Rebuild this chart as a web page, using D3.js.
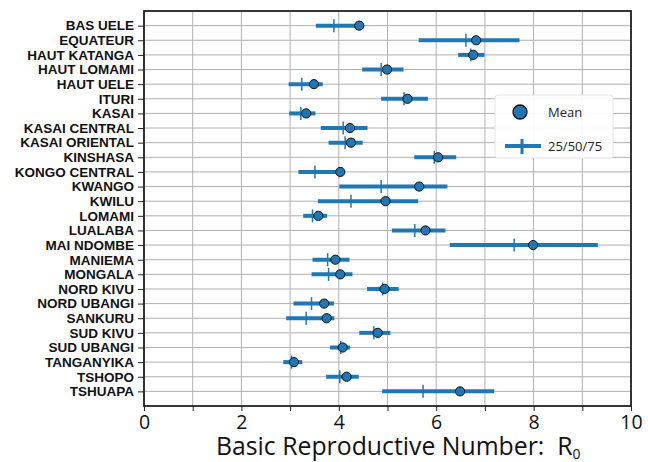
<!DOCTYPE html>
<html>
<head>
<meta charset="utf-8">
<script src="https://cdn.jsdelivr.net/npm/d3@7"></script>
<style>
  body { margin: 0; background: #fff; }
</style>
</head>
<body>
<svg id="chart" width="648" height="462"></svg>
<script>
const provinces = ["BAS UELE", "EQUATEUR", "HAUT KATANGA", "HAUT LOMAMI", "HAUT UELE", "ITURI",
  "KASAI", "KASAI CENTRAL", "KASAI ORIENTAL", "KINSHASA", "KONGO CENTRAL", "KWANGO", "KWILU",
  "LOMAMI", "LUALABA", "MAI NDOMBE", "MANIEMA", "MONGALA", "NORD KIVU", "NORD UBANGI",
  "SANKURU", "SUD KIVU", "SUD UBANGI", "TANGANYIKA", "TSHOPO", "TSHUAPA"]
const q25 = [3.53, 5.64, 6.45, 4.48, 2.97, 4.87, 2.98, 3.63, 3.79, 5.55, 3.17, 4.01, 3.57,
  3.27, 5.09, 6.28, 3.46, 3.44, 4.58, 3.07, 2.92, 4.42, 3.82, 2.86, 3.74, 4.89]
const q50 = [3.90, 6.61, 6.71, 4.87, 3.24, 5.34, 3.22, 4.09, 4.13, 5.96, 3.51, 4.87, 4.25,
  3.46, 5.56, 7.60, 3.77, 3.79, 4.90, 3.44, 3.33, 4.72, 4.04, 3.03, 4.02, 5.73]
const q75 = [4.40, 7.71, 6.99, 5.33, 3.67, 5.83, 3.52, 4.59, 4.49, 6.41, 4.12, 6.23, 5.63,
  3.76, 6.19, 9.32, 4.22, 4.28, 5.23, 3.90, 3.91, 5.06, 4.23, 3.25, 4.41, 7.19]
const means = [4.42, 6.82, 6.76, 4.99, 3.49, 5.41, 3.33, 4.23, 4.25, 6.04, 4.03, 5.65, 4.96,
  3.58, 5.78, 7.99, 3.93, 4.03, 4.94, 3.70, 3.75, 4.80, 4.08, 3.08, 4.16, 6.49]
const xTicks = d3.range(0, 11)
const xTickLabels = [0, 2, 4, 6, 8, 10]
const legendLabels = ["Mean", "25/50/75"]

const blue = "#1f77b4"
const margin = { top: 11, right: 17, bottom: 56, left: 144 }
const width = 648, height = 462

const svg = d3.select("#chart")

const x = d3.scaleLinear().domain([0, 10]).range([margin.left, width - margin.right])
const y = d3.scalePoint().domain(provinces).range([margin.top, height - margin.bottom]).padding(1)

// grid
const grid = svg.append("g")
grid.selectAll("line.v").data(xTicks).join("line")
  .attr("x1", d => x(d)).attr("x2", d => x(d))
  .attr("y1", margin.top).attr("y2", height - margin.bottom)
  .attr("stroke", "#b0b0b0").attr("stroke-width", 1)
grid.selectAll("line.h").data(provinces).join("line")
  .attr("x1", margin.left).attr("x2", width - margin.right)
  .attr("y1", d => y(d)).attr("y2", d => y(d))
  .attr("stroke", "#b0b0b0").attr("stroke-width", 1)

// quartile bars
const rows = provinces.map((p, i) => ({ name: p, lo: q25[i], med: q50[i], hi: q75[i], mean: means[i] }))
const marks = svg.append("g")
marks.selectAll("line.range").data(rows).join("line")
  .attr("x1", d => x(d.lo)).attr("x2", d => x(d.hi))
  .attr("y1", d => y(d.name)).attr("y2", d => y(d.name))
  .attr("stroke", blue).attr("stroke-width", 4)
marks.selectAll("line.med").data(rows).join("line")
  .attr("x1", d => x(d.med)).attr("x2", d => x(d.med))
  .attr("y1", d => y(d.name) - 6.5).attr("y2", d => y(d.name) + 6.5)
  .attr("stroke", blue).attr("stroke-width", 1.5)
marks.selectAll("circle").data(rows).join("circle")
  .attr("cx", d => x(d.mean)).attr("cy", d => y(d.name))
  .attr("r", 4.6)
  .attr("fill", blue).attr("stroke", "#111").attr("stroke-width", 1)

// axes
const xAxis = d3.axisBottom(x).tickValues(xTicks).tickSize(5)
  .tickFormat(d => xTickLabels.includes(d) ? d : "")
const gx = svg.append("g").attr("transform", `translate(0,${height - margin.bottom})`).call(xAxis)
gx.select(".domain").remove()
gx.selectAll(".tick line").attr("stroke", "#222").attr("stroke-width", 1)
gx.selectAll(".tick text").filter(d => !xTickLabels.includes(d)).remove()
gx.selectAll(".tick text")
  .attr("y", 9).attr("dy", "0.71em")
  .style("font-family", "'Open Sans', sans-serif").style("font-size", "19.5px").attr("fill", "#111")

const yAxis = d3.axisLeft(y).tickSize(6).tickPadding(4)
const gy = svg.append("g").attr("transform", `translate(${margin.left},0)`).call(yAxis)
gy.select(".domain").remove()
gy.selectAll(".tick line").attr("stroke", "#222").attr("stroke-width", 1)
gy.selectAll(".tick text")
  .style("font-family", "'Liberation Sans', Arial, sans-serif").style("font-weight", "bold")
  .style("font-size", "13.5px").attr("fill", "#111")

// frame
svg.append("rect")
  .attr("x", margin.left).attr("y", margin.top)
  .attr("width", width - margin.left - margin.right)
  .attr("height", height - margin.top - margin.bottom)
  .attr("fill", "none").attr("stroke", "#222").attr("stroke-width", 1.8)

// x label
const xl = svg.append("text")
  .attr("x", 216).attr("y", 455)
  .attr("xml:space", "preserve")
  .style("white-space", "pre")
  .style("font-family", "'Open Sans', sans-serif").style("font-size", "24.8px").attr("fill", "#111")
xl.append("tspan").text("Basic Reproductive Number:  R")
xl.append("tspan").attr("dy", 4).style("font-size", "14px").text("0")

// legend
const leg = svg.append("g").attr("transform", "translate(495,95)")
leg.append("rect").attr("width", 118).attr("height", 63).attr("rx", 3)
  .attr("fill", "#fff").attr("fill-opacity", 0.92).attr("stroke", "#e6e6e6")
leg.append("circle").attr("cx", 25).attr("cy", 17).attr("r", 7)
  .attr("fill", blue).attr("stroke", "#111").attr("stroke-width", 1.3)
leg.append("line").attr("x1", 10).attr("x2", 46).attr("y1", 51).attr("y2", 51)
  .attr("stroke", blue).attr("stroke-width", 4)
leg.append("line").attr("x1", 27).attr("x2", 27).attr("y1", 44).attr("y2", 59)
  .attr("stroke", blue).attr("stroke-width", 3)
leg.selectAll("text").data(legendLabels).join("text")
  .attr("x", 53).attr("y", (d, i) => 17 + i * 34).attr("dy", "0.35em")
  .style("font-family", "'Open Sans', sans-serif").style("font-size", "13px").attr("fill", "#222")
  .text(d => d)
</script>
</body>
</html>
